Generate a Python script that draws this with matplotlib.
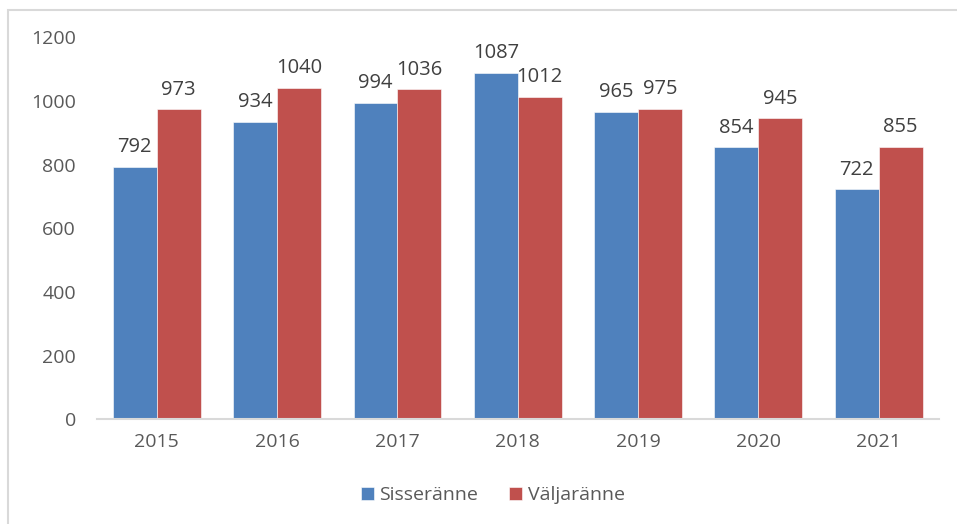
import matplotlib.pyplot as plt
from matplotlib.patches import Rectangle
import numpy as np

YEARS = ["2015", "2016", "2017", "2018", "2019", "2020", "2021"]
SISSERANNE = [792, 934, 994, 1087, 965, 854, 722]
VALJARANNE = [973, 1040, 1036, 1012, 975, 945, 855]

BLUE = "#4F81BD"
RED = "#C0504D"
TEXT = "#595959"

plt.rcParams["font.family"] = ["Open Sans", "DejaVu Sans"]

fig = plt.figure(figsize=(9.57, 5.24), dpi=100)
ax = fig.add_axes([0.101, 0.200, 0.880, 0.729])

# outer chart frame (only top and left edge visible in the reference)
fig.patches.append(Rectangle((0.0085, -0.1), 1.2, 1.081, transform=fig.transFigure,
                             fill=False, edgecolor="#d9d9d9", linewidth=1.5))

x = np.arange(len(YEARS))
w = 0.365
b1 = ax.bar(x - w / 2, SISSERANNE, w, color=BLUE, label="Sisseränne",
            edgecolor="white", linewidth=0.4)
b2 = ax.bar(x + w / 2, VALJARANNE, w, color=RED, label="Väljaränne",
            edgecolor="white", linewidth=0.4)

for bars in (b1, b2):
    ax.bar_label(bars, padding=7, fontsize=14.5, color="#404040")

ax.set_xlim(-0.5, len(YEARS) - 0.5)
ax.set_ylim(0, 1200)
ax.set_yticks(range(0, 1201, 200))
ax.set_xticks(x)
ax.set_xticklabels(YEARS)
ax.tick_params(axis="both", length=0, labelsize=14, labelcolor=TEXT)
ax.tick_params(axis="y", pad=15)
ax.tick_params(axis="x", pad=10)

for side in ("top", "right", "left"):
    ax.spines[side].set_visible(False)
ax.spines["bottom"].set_color("#d9d9d9")
ax.spines["bottom"].set_linewidth(1.5)

leg = fig.legend(loc="center", bbox_to_anchor=(0.515, 0.055), ncol=2, frameon=False,
                 fontsize=14, handlelength=0.65, handleheight=0.65, handletextpad=0.3,
                 columnspacing=1.6)
for t in leg.get_texts():
    t.set_color(TEXT)

fig.savefig("out.png", dpi=100)
